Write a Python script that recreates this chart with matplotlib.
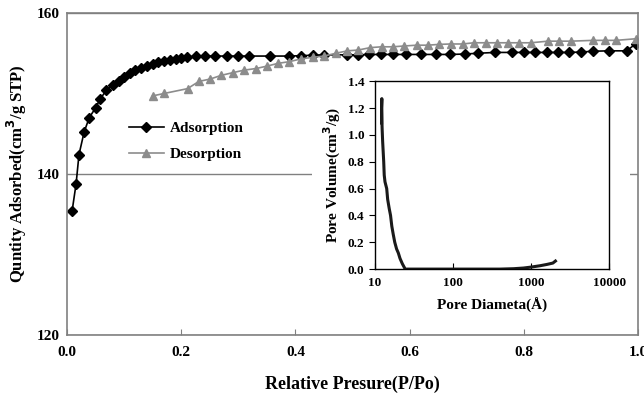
import matplotlib.pyplot as plt
from matplotlib.patches import Rectangle

plt.rcParams['font.family'] = ['Liberation Serif', 'DejaVu Serif']
plt.rcParams['font.weight'] = 'bold'

# adsorption isotherm
ads_p = [0.009, 0.016, 0.021, 0.030, 0.039, 0.050, 0.058, 0.069, 0.080, 0.091,
         0.100, 0.110, 0.119, 0.130, 0.140, 0.150, 0.159, 0.170, 0.180, 0.190,
         0.199, 0.210, 0.226, 0.241, 0.259, 0.280, 0.299, 0.319, 0.355, 0.389,
         0.410, 0.430, 0.450, 0.490, 0.510, 0.529, 0.550, 0.570, 0.594, 0.620,
         0.646, 0.671, 0.696, 0.720, 0.750, 0.779, 0.800, 0.820, 0.840, 0.859,
         0.879, 0.900, 0.921, 0.949, 0.980, 0.996]
ads_q = [135.4, 138.8, 142.4, 145.2, 147.0, 148.2, 149.3, 150.4, 151.1, 151.6,
         152.0, 152.6, 152.9, 153.2, 153.4, 153.7, 153.9, 154.0, 154.2, 154.3,
         154.45, 154.55, 154.6, 154.65, 154.65, 154.65, 154.65, 154.65, 154.65, 154.65,
         154.7, 154.75, 154.8, 154.8, 154.8, 154.85, 154.85, 154.85, 154.85, 154.85,
         154.85, 154.85, 154.9, 155.0, 155.1, 155.1, 155.1, 155.1, 155.1, 155.1,
         155.1, 155.15, 155.25, 155.3, 155.3, 156.2]

# desorption isotherm
des_p = [0.150, 0.170, 0.211, 0.231, 0.251, 0.270, 0.291, 0.310, 0.331, 0.350,
         0.370, 0.389, 0.410, 0.431, 0.450, 0.471, 0.491, 0.510, 0.531, 0.551,
         0.570, 0.590, 0.612, 0.632, 0.651, 0.672, 0.693, 0.712, 0.733, 0.753,
         0.772, 0.792, 0.812, 0.842, 0.862, 0.882, 0.921, 0.941, 0.961, 0.996]
des_q = [149.7, 150.0, 150.6, 151.5, 151.8, 152.25, 152.6, 152.9, 153.1, 153.4,
         153.75, 153.95, 154.3, 154.5, 154.65, 155.0, 155.3, 155.4, 155.7, 155.8,
         155.8, 155.9, 156.0, 156.0, 156.1, 156.15, 156.15, 156.3, 156.3, 156.3,
         156.3, 156.3, 156.3, 156.5, 156.5, 156.5, 156.6, 156.6, 156.6, 156.8]

# pore size distribution
pore_d = [12.2, 12.3, 12.2, 12.4, 12.6, 13.0, 13.2, 13.5, 14.2, 14.6, 15.3,
          15.9, 16.5, 17.2, 18.0, 19.0, 20.0, 21.0, 22.5, 24.5, 30, 50, 100,
          200, 400, 600, 800, 1000, 1300, 1600, 1900, 2050]
pore_v = [1.09, 1.27, 1.20, 1.05, 0.95, 0.80, 0.70, 0.65, 0.60, 0.52, 0.45,
          0.40, 0.32, 0.26, 0.20, 0.15, 0.12, 0.08, 0.04, 0.0, 0.0, 0.0, 0.0,
          0.0, 0.0, 0.003, 0.008, 0.015, 0.025, 0.035, 0.045, 0.06]

grey = '#808080'
fig = plt.figure(figsize=(6.44, 3.94), dpi=100)
ax = fig.add_axes([0.104, 0.150, 0.887, 0.817])
ax.plot(ads_p, ads_q, '-D', color='black', ms=5, lw=1.2, label='Adsorption')
ax.plot(des_p, des_q, '-^', color='#8c8c8c', ms=5.5, lw=1.2, label='Desorption')
ax.set_xlim(0, 1.0)
ax.set_ylim(120, 160)
ax.set_xticks([0.0, 0.2, 0.4, 0.6, 0.8, 1.0])
ax.set_xticklabels(['0.0', '0.2', '0.4', '0.6', '0.8', '1.0'])
ax.set_yticks([120, 140, 160])
ax.yaxis.grid(True, color=grey, lw=1)
ax.set_axisbelow(True)
for sp in ax.spines.values():
    sp.set_color(grey)
    sp.set_linewidth(1.2)
ax.tick_params(axis='x', direction='in', length=4, color=grey, pad=8, labelsize=11)
ax.tick_params(axis='y', length=0, pad=5.5, labelsize=11)
ax.set_xlabel('Relative Presure(P/Po)', fontsize=13, fontweight='bold', labelpad=12)
ax.set_ylabel('Quntity Adsorbed(cm$^\\mathbf{3}$/g STP)', fontsize=12, fontweight='bold', labelpad=5)
ax.legend(loc='upper left', bbox_to_anchor=(0.084, 0.705), frameon=False, fontsize=11,
          handlelength=2.3, handletextpad=0.4, labelspacing=0.8)

# white box behind the inset
fig.patches.append(Rectangle((312 / 644, 1 - 322 / 394), 318 / 644, 252 / 394,
                             transform=fig.transFigure, facecolor='white',
                             edgecolor='none', zorder=1))

ins = fig.add_axes([0.582, 0.317, 0.364, 0.477], zorder=2)
ins.plot(pore_d, pore_v, color='#1a1a1a', lw=2.2)
ins.set_xscale('log')
ins.set_xlim(10, 10000)
ins.set_ylim(0, 1.4)
ins.set_yticks([0.0, 0.2, 0.4, 0.6, 0.8, 1.0, 1.2, 1.4])
ins.set_yticklabels(['0.0', '0.2', '0.4', '0.6', '0.8', '1.0', '1.2', '1.4'])
ins.set_xticks([10, 100, 1000, 10000])
ins.set_xticklabels(['10', '100', '1000', '10000'])
ins.minorticks_off()
ins.tick_params(axis='x', direction='in', length=4, pad=6, labelsize=9.5)
ins.tick_params(axis='y', direction='out', length=4, labelsize=9.5)
for sp in ins.spines.values():
    sp.set_linewidth(1)
ins.set_xlabel('Pore Diameta(Å)', fontsize=11, fontweight='bold', labelpad=6)
ins.set_ylabel('Pore Volume(cm$^\\mathbf{3}$/g)', fontsize=11, fontweight='bold', labelpad=3)

fig.savefig('out.png', dpi=100)
